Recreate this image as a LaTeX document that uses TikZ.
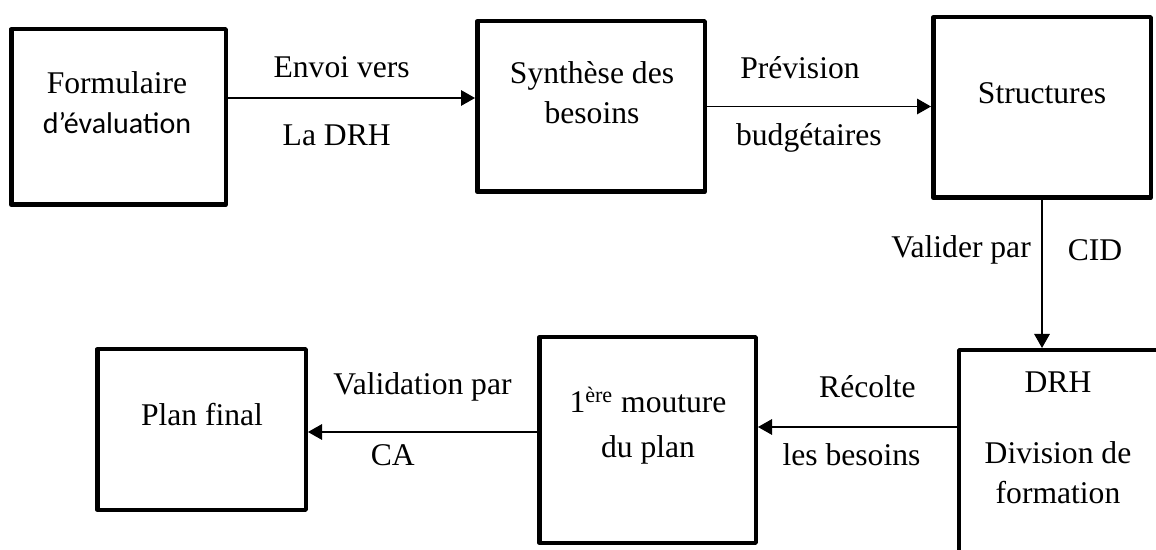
\documentclass[tikz,border=0pt]{standalone}
\usepackage{fontspec}
\setmainfont{Liberation Serif}
\newfontfamily\calibri{Carlito}
\usetikzlibrary{arrows.meta}

\begin{document}
\begin{tikzpicture}[line cap=round,line join=round,>={Triangle[length=7pt,width=7.8pt]},x=0.5pt,y=-0.5pt,
  bloc/.style={draw,line width=2.25pt,inner sep=0pt},
  txt/.style={align=center,font=\fontsize{15.8}{20}\selectfont},
  fl/.style={->,line width=0.6pt}]
\useasboundingbox (0,0) rectangle (1156,550);
% les boites
\node [bloc,minimum width=107.25pt,minimum height=87.75pt] (form) at (118.5,117) {};
\node [bloc,minimum width=113.75pt,minimum height=85.25pt] (synth) at (591,106.5) {};
\node [bloc,minimum width=108.75pt,minimum height=90.25pt] (struct) at (1042,107.5) {};
\node [bloc,minimum width=102.4pt,minimum height=109.9pt] (drh) at (1061.6,460.1) {};
\node [bloc,minimum width=108.25pt,minimum height=102.75pt] (mout) at (647.5,440) {};
\node [bloc,minimum width=104.25pt,minimum height=80.25pt] (plan) at (201.5,429.5) {};
% textes des boites
\node [txt] (form-t) at (117,102.5) {Formulaire\\{\calibri\fontsize{15}{20}\selectfont d’évaluation}};
\node [txt] (synth-t) at (592,92.5) {Synthèse des\\besoins};
\node [txt] (struct-t) at (1042,93) {Structures};
\node [txt] (drh-t) at (1058,437.5) {DRH\\[15.5pt]Division de\\formation};
\node [txt] (mout-t) at (648,425.5) {1\textsuperscript{ère} mouture\\[2.5pt]du plan};
\node [txt] (plan-t) at (202,415) {Plan final};
% fleches
\coordinate (a1) at ([yshift=9.5pt]form.east);
\coordinate (a4) at ([yshift=6.5pt]mout.east);
\coordinate (a5) at ([yshift=4pt]mout.west);
\draw [fl] (a1) -- node[txt,pos=0.46,yshift=15.5pt] {Envoi vers} node[txt,pos=0.44,yshift=-18.5pt] {La DRH} (a1 -| synth.west);
\draw [fl] (synth.east) -- node[txt,pos=0.415,yshift=19.5pt] {Prévision} node[txt,pos=0.455,yshift=-15.5pt] {budgétaires} (synth.east -| struct.west);
\draw [fl] (struct.south) -- node[txt,pos=0.34,xshift=-40.5pt] {Valider par} node[txt,pos=0.34,xshift=26.5pt] {CID} (struct.south |- drh.north);
\draw [fl] (a4 -| drh.west) -- node[txt,pos=0.45,yshift=20pt] {Récolte} node[txt,pos=0.53,yshift=-14pt] {les besoins} (a4);
\draw [fl] (a5) -- node[txt,pos=0.5,yshift=22.5pt] {Validation par} node[txt,pos=0.63,yshift=-11.5pt] {CA} (a5 -| plan.east);
\end{tikzpicture}
\end{document}
